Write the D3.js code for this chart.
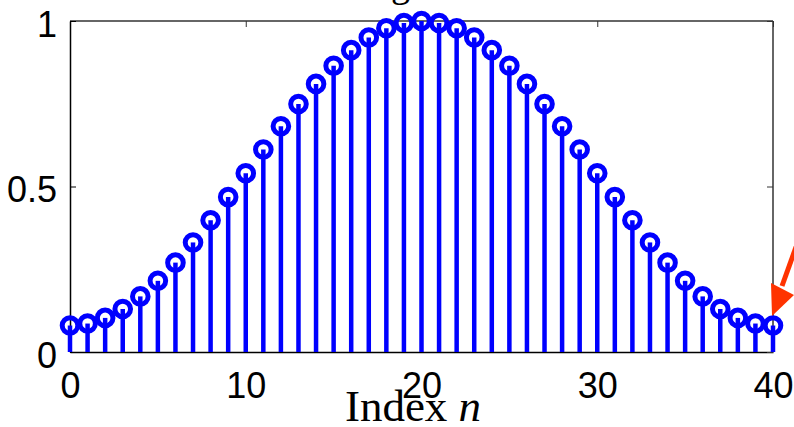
<!DOCTYPE html>
<html>
<head>
<meta charset="utf-8">
<script src="https://cdn.jsdelivr.net/npm/d3@7"></script>
<style>
  html, body { margin: 0; padding: 0; background: #fff; }
  svg { display: block; }
</style>
</head>
<body>
<svg id="chart" width="794" height="427"></svg>
<script>
// Data
const indices = [0,1,2,3,4,5,6,7,8,9,10,11,12,13,14,15,16,17,18,19,20,21,22,23,24,25,26,27,28,29,30,31,32,33,34,35,36,37,38,39,40];
const values = [0.080,0.086,0.103,0.130,0.168,0.215,0.270,0.331,0.398,0.468,0.540,0.612,0.682,0.749,0.810,0.865,0.912,0.950,0.978,0.994,1.000,
                0.994,0.978,0.950,0.912,0.865,0.810,0.749,0.682,0.612,0.540,0.468,0.398,0.331,0.270,0.215,0.168,0.130,0.103,0.086,0.080];
const xTicks = [0,10,20,30,40];
const yTicks = [0,0.5,1];
const yTickLabels = ["0","0.5","1"];
const titleText = "Hamming window";
const xLabelMain = "Index ";
const xLabelVar = "n";

const svg = d3.select("#chart");
const L = 70, R = 773, T = 21, B = 352;
const x = d3.scaleLinear().domain([0,40]).range([L, R]);
const y = d3.scaleLinear().domain([0,1]).range([B, T]);

// Title (mostly cut off at top)
svg.append("text")
  .attr("x", 400).attr("y", -3)
  .attr("text-anchor", "middle")
  .attr("font-family", "Liberation Serif, Times New Roman, serif")
  .attr("font-size", 38)
  .attr("fill", "#000")
  .text(titleText);

// Box
const box = svg.append("g");
box.append("line").attr("x1", L).attr("x2", R).attr("y1", T).attr("y2", T)
  .attr("stroke", "#333").attr("stroke-width", 1.5);
box.append("line").attr("x1", R).attr("x2", R).attr("y1", T).attr("y2", B)
  .attr("stroke", "#333").attr("stroke-width", 1.5);

// Axes with inward ticks
const xAxis = d3.axisBottom(x).tickValues(xTicks).tickSizeInner(-6).tickSizeOuter(0).tickPadding(20).tickFormat(d3.format("d"));
const gx = svg.append("g").attr("transform", `translate(0,${B})`).call(xAxis);
gx.select(".domain").attr("stroke", "#000").attr("stroke-width", 1.5);
gx.selectAll(".tick line").attr("stroke", "#000").attr("stroke-width", 1);
gx.selectAll(".tick text")
  .attr("font-family", "Liberation Sans, Arial, sans-serif")
  .attr("font-size", 36).attr("fill", "#000").attr("dy", "0.71em");

const xAxisTop = d3.axisTop(x).tickValues(xTicks).tickSizeInner(-6).tickSizeOuter(0).tickFormat("");
const gxt = svg.append("g").attr("transform", `translate(0,${T})`).call(xAxisTop);
gxt.select(".domain").remove();
gxt.selectAll(".tick line").attr("stroke", "#333").attr("stroke-width", 1);

const yAxis = d3.axisLeft(y).tickValues(yTicks).tickSizeInner(-6).tickSizeOuter(0).tickPadding(13)
  .tickFormat((d,i) => yTickLabels[i]);
const gy = svg.append("g").attr("transform", `translate(${L},0)`).call(yAxis);
gy.select(".domain").attr("stroke", "#000").attr("stroke-width", 1.5);
gy.selectAll(".tick line").attr("stroke", "#000").attr("stroke-width", 1);
gy.selectAll(".tick text")
  .attr("font-family", "Liberation Sans, Arial, sans-serif")
  .attr("font-size", 36).attr("fill", "#000").attr("dy", "0.42em");

const yAxisR = d3.axisRight(y).tickValues(yTicks).tickSizeInner(-6).tickSizeOuter(0).tickFormat("");
const gyr = svg.append("g").attr("transform", `translate(${R},0)`).call(yAxisR);
gyr.select(".domain").remove();
gyr.selectAll(".tick line").attr("stroke", "#333").attr("stroke-width", 1);

// Stems
const data = indices.map((n,i) => ({n, v: values[i]}));
svg.append("g").selectAll("line").data(data).join("line")
  .attr("x1", d => x(d.n)).attr("x2", d => x(d.n))
  .attr("y1", y(0)).attr("y2", d => y(d.v))
  .attr("stroke", "#0000ff").attr("stroke-width", 4.5);

// Markers
svg.append("g").selectAll("circle").data(data).join("circle")
  .attr("cx", d => x(d.n)).attr("cy", d => y(d.v))
  .attr("r", 7.8)
  .attr("fill", "none")
  .attr("stroke", "#0000ff").attr("stroke-width", 5);

// X label
const xl = svg.append("text")
  .attr("x", 413).attr("y", 421)
  .attr("text-anchor", "middle")
  .attr("font-family", "Liberation Serif, Times New Roman, serif")
  .attr("font-size", 45)
  .attr("fill", "#000");
xl.append("tspan").text(xLabelMain);
xl.append("tspan").attr("font-style", "italic").text(xLabelVar);

// Red arrow (annotation)
const arrowColor = "#ff3300";
svg.append("line")
  .attr("x1", 800).attr("y1", 236).attr("x2", 782).attr("y2", 286)
  .attr("stroke", arrowColor).attr("stroke-width", 5);
svg.append("polygon")
  .attr("points", "772,316 771,283 794,295")
  .attr("fill", arrowColor);
</script>
</body>
</html>
